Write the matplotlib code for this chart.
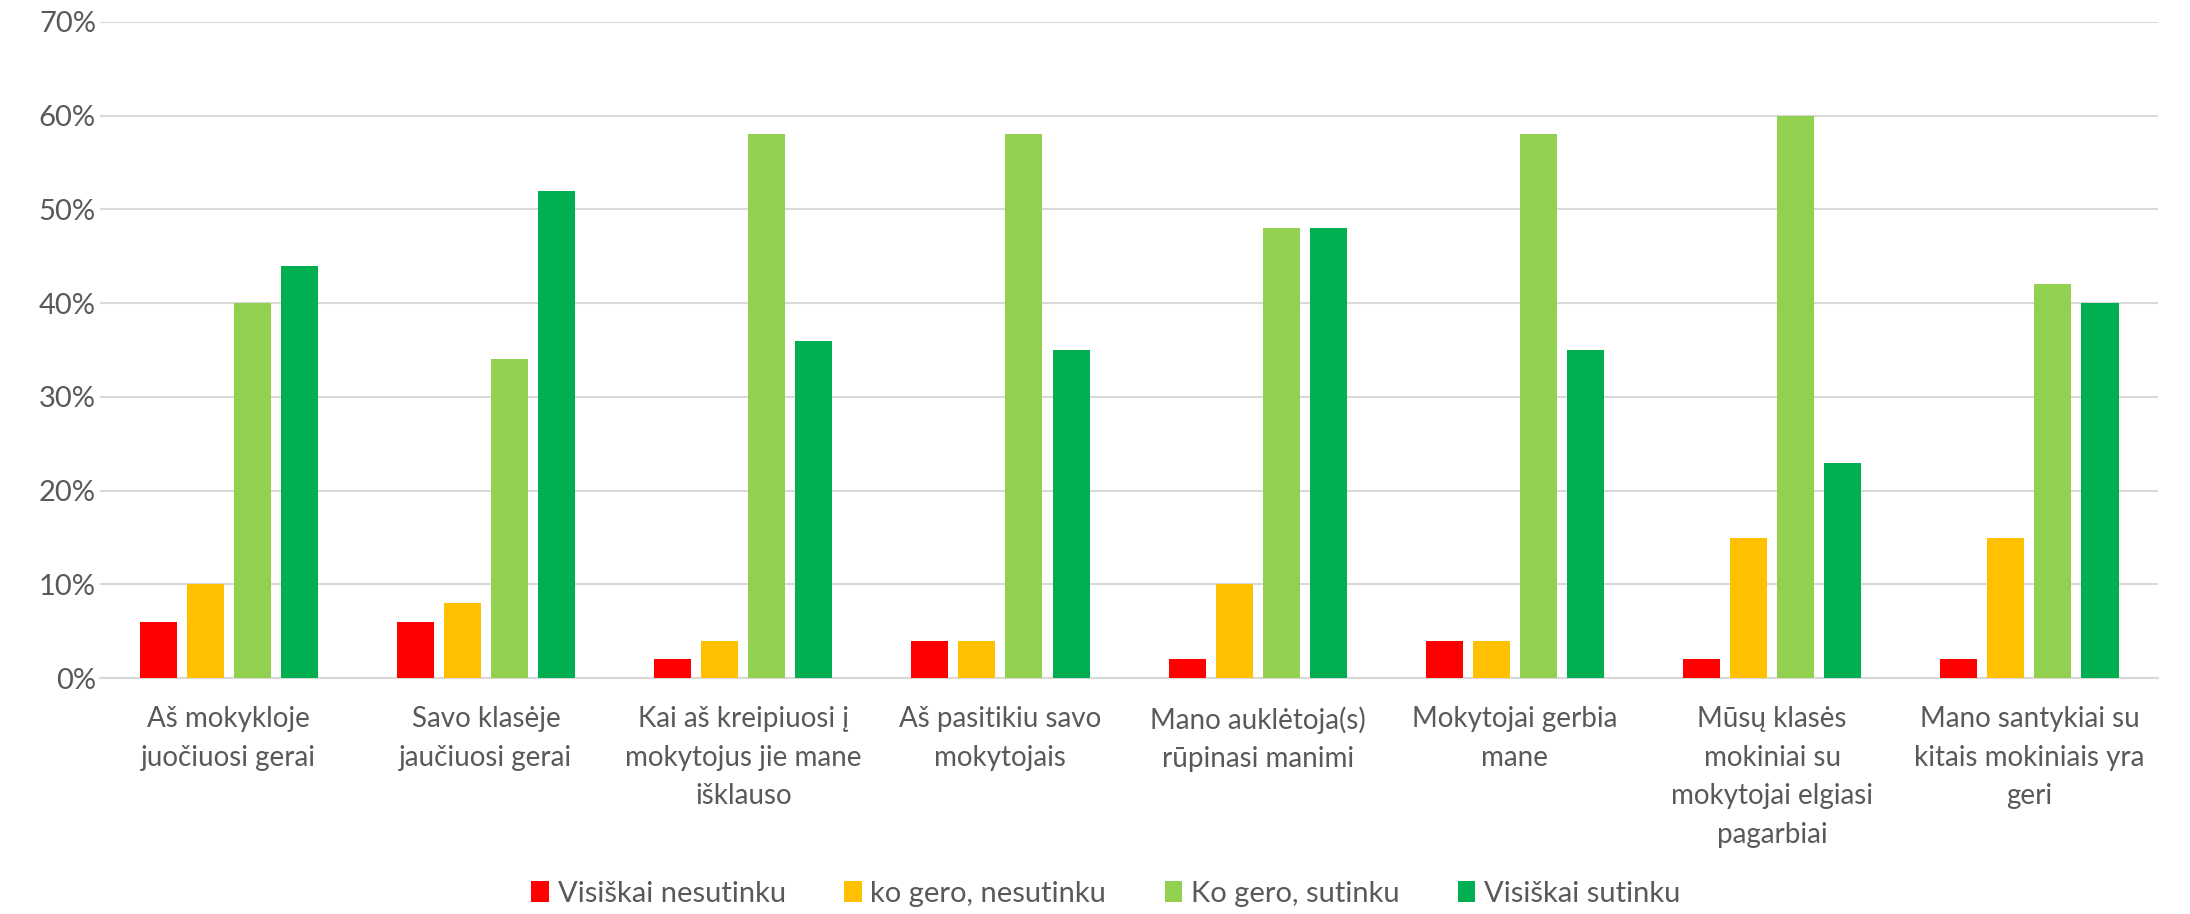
import numpy as np
import matplotlib
matplotlib.use('Agg')
import matplotlib.pyplot as plt
from matplotlib.ticker import PercentFormatter

plt.rcParams['font.family'] = ['Lato', 'DejaVu Sans']

categories = [
    'Aš mokykloje\njuočiuosi gerai',
    'Savo klasėje\njaučiuosi gerai',
    'Kai aš kreipiuosi į\nmokytojus jie mane\nišklauso',
    'Aš pasitikiu savo\nmokytojais',
    'Mano auklėtoja(s)\nrūpinasi manimi',
    'Mokytojai gerbia\nmane',
    'Mūsų klasės\nmokiniai su\nmokytojai elgiasi\npagarbiai',
    'Mano santykiai su\nkitais mokiniais yra\ngeri',
]

series_names = ['Visiškai nesutinku', 'ko gero, nesutinku', 'Ko gero, sutinku', 'Visiškai sutinku']
visiskai_nesutinku = [6, 6, 2, 4, 2, 4, 2, 2]
ko_gero_nesutinku = [10, 8, 4, 4, 10, 4, 15, 15]
ko_gero_sutinku = [40, 34, 58, 58, 48, 58, 60, 42]
visiskai_sutinku = [44, 52, 36, 35, 48, 35, 23, 40]
colors = ['#FF0000', '#FFC000', '#92D050', '#00B050']

TEXT = '#595959'
GRID = '#D9D9D9'

fig = plt.figure(figsize=(21.9, 9.14), dpi=100)
ax = fig.add_axes([0.0457, 0.258, 0.9397, 0.718])

x = np.arange(len(categories))
pitch = 0.183
width = 0.144
all_series = [visiskai_nesutinku, ko_gero_nesutinku, ko_gero_sutinku, visiskai_sutinku]
for i, (vals, name, col) in enumerate(zip(all_series, series_names, colors)):
    ax.bar(x + (i - 1.5) * pitch, vals, width, color=col, label=name, zorder=3)

ax.set_xlim(-0.5, len(categories) - 0.5)
ax.set_ylim(0, 70)
ax.set_yticks(range(0, 71, 10))
ax.yaxis.set_major_formatter(PercentFormatter(decimals=0))
ax.grid(axis='y', color=GRID, linewidth=1.5, zorder=0)
for s in ['top', 'right', 'left']:
    ax.spines[s].set_visible(False)
ax.spines['bottom'].set_color(GRID)
ax.spines['bottom'].set_linewidth(1.5)

ax.set_xticks(x)
ax.set_xticklabels(categories, fontsize=20, color=TEXT, linespacing=1.6)
ax.tick_params(axis='x', length=0, pad=20)
ax.tick_params(axis='y', length=0, pad=3, labelsize=21, labelcolor=TEXT)

leg = fig.legend(loc='center', bbox_to_anchor=(0.505, 0.022), ncol=4, frameon=False,
                 fontsize=21, labelcolor=TEXT, handlelength=0.6, handleheight=0.75,
                 handletextpad=0.3, columnspacing=2.0)

fig.savefig('out.png', dpi=100)
